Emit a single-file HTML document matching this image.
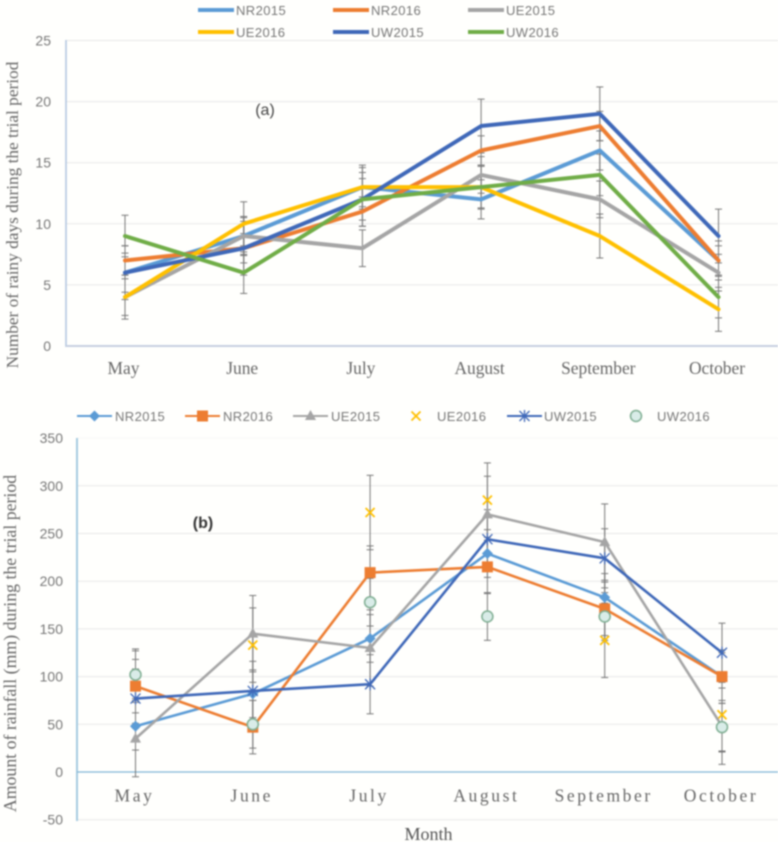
<!DOCTYPE html>
<html lang="en">
<head>
<meta charset="utf-8">
<title>Rainy days and rainfall during the trial period</title>
<style>
  html, body { margin: 0; padding: 0; background: #fffffd; }
  #figure { display: block; width: 778px; height: 842px; filter: blur(0.7px); }
  .sans { font-family: "Liberation Sans", sans-serif; }
  .serif { font-family: "Liberation Serif", serif; }
</style>
</head>
<body>
<svg id="figure" xmlns="http://www.w3.org/2000/svg" width="778" height="842" viewBox="0 0 778 842">
  <g id="chart-a"></g>
  <g id="chart-b"></g>
</svg>
<script>
const months = ['May', 'June', 'July', 'August', 'September', 'October'];
const seriesNames = ['NR2015', 'NR2016', 'UE2015', 'UE2016', 'UW2015', 'UW2016'];

const ticksA = [0, 5, 10, 15, 20, 25];
const nr2015A = [6, 9, 13, 12, 16, 7];
const nr2016A = [7, 8, 11, 16, 18, 7];
const ue2015A = [4, 9, 8, 14, 12, 6];
const ue2016A = [4, 10, 13, 13, 9, 3];
const uw2015A = [6, 8, 12, 18, 19, 9];
const uw2016A = [9, 6, 12, 13, 14, 4];
const errorsA = [1.6, 1.2, 1.5, 1.8, 2.2, 1.7];

const ticksB = [-50, 0, 50, 100, 150, 200, 250, 300, 350];
const nr2015B = [48, 82, 140, 229, 183, 100];
const nr2016B = [90, 47, 209, 215, 171, 100];
const ue2015B = [35, 145, 130, 270, 241, 48];
const ue2016B = [90, 133, 272, 285, 138, 60];
const uw2015B = [77, 85, 92, 244, 224, 125];
const uw2016B = [102, 50, 178, 163, 163, 47];
const errorsB = [25, 28, 40, 39, 31, 25];

const SVGNS = 'http://www.w3.org/2000/svg';
const colorsA = ['#5b9bd5', '#ed7d31', '#a5a5a5', '#ffc000', '#3f68b8', '#70ad47'];
const colorsB = ['#5b9bd5', '#ed7d31', '#a5a5a5', '#ffc000', '#3f68b8', '#7fae92'];

function make(parent, tag, attrs, text) {
  const el = document.createElementNS(SVGNS, tag);
  for (const k in attrs) el.setAttribute(k, attrs[k]);
  if (text !== undefined) el.textContent = text;
  parent.appendChild(el);
  return el;
}

function label(parent, name, x, y, text, size, fill, cls, anchor, extra) {
  const el = make(parent, 'text', Object.assign({ x: x, y: y, 'font-size': size, fill: fill, class: cls, 'text-anchor': anchor }, extra || {}), text);
  
  
  return el;
}

function errorBar(parent, name, px, yTop, yBottom) {
  const g = make(parent, 'g', { stroke: '#777777', 'stroke-width': 1, fill: 'none' });
  
  
  make(g, 'line', { x1: px, x2: px, y1: yTop, y2: yBottom });
  make(g, 'line', { x1: px - 3.5, x2: px + 3.5, y1: yTop, y2: yTop });
  make(g, 'line', { x1: px - 3.5, x2: px + 3.5, y1: yBottom, y2: yBottom });
}

function drawMarker(parent, kind, cx, cy, color) {
  if (kind === 'diamond') {
    make(parent, 'path', { d: 'M' + cx + ' ' + (cy - 5.5) + 'L' + (cx + 5.5) + ' ' + cy + 'L' + cx + ' ' + (cy + 5.5) + 'L' + (cx - 5.5) + ' ' + cy + 'Z', fill: color });
  } else if (kind === 'square') {
    make(parent, 'rect', { x: cx - 5.5, y: cy - 5.5, width: 11, height: 11, fill: color });
  } else if (kind === 'triangle') {
    make(parent, 'path', { d: 'M' + cx + ' ' + (cy - 6) + 'L' + (cx + 5.5) + ' ' + (cy + 4) + 'L' + (cx - 5.5) + ' ' + (cy + 4) + 'Z', fill: color });
  } else if (kind === 'cross') {
    make(parent, 'path', { d: 'M' + (cx - 4.5) + ' ' + (cy - 4.5) + 'L' + (cx + 4.5) + ' ' + (cy + 4.5) + 'M' + (cx + 4.5) + ' ' + (cy - 4.5) + 'L' + (cx - 4.5) + ' ' + (cy + 4.5), stroke: color, 'stroke-width': 1.8, fill: 'none' });
  } else if (kind === 'star') {
    make(parent, 'path', { d: 'M' + (cx - 5) + ' ' + (cy - 5) + 'L' + (cx + 5) + ' ' + (cy + 5) + 'M' + (cx + 5) + ' ' + (cy - 5) + 'L' + (cx - 5) + ' ' + (cy + 5) + 'M' + cx + ' ' + (cy - 6) + 'L' + cx + ' ' + (cy + 6), stroke: color, 'stroke-width': 1.3, fill: 'none' });
  } else if (kind === 'circle') {
    make(parent, 'circle', { cx: cx, cy: cy, r: 5.5, fill: '#d9ece8', stroke: color, 'stroke-width': 1.5 });
  }
}

/* ---------- chart (a) ---------- */
const rootA = document.getElementById('chart-a');
const seriesA = [nr2015A, nr2016A, ue2015A, ue2016A, uw2015A, uw2016A];
const xA = i => 125 + i * 118.7;
const yA = v => 346 - v * 12.22;

ticksA.forEach(t => {
  if (t > 0) {
    const grid = make(rootA, 'line', { x1: 66, x2: 778, y1: yA(t), y2: yA(t), stroke: '#e8e8e8', 'stroke-width': 1 });
    
    
  }
  label(rootA, 'y-tick-a-' + t, 51, yA(t) + 5, String(t), 14, '#777777', 'sans', 'end');
});
const axisLeftA = make(rootA, 'line', { x1: 66, x2: 66, y1: 40, y2: 347, stroke: '#b4c7e0', 'stroke-width': 1.6 });


const axisBottomA = make(rootA, 'line', { x1: 66, x2: 778, y1: 346, y2: 346, stroke: '#c6cfe0', 'stroke-width': 2 });



months.forEach((m, i) => {
  label(rootA, 'x-tick-a-' + m.toLowerCase(), xA(i) - 1.5, 374, m, 17.4, '#666666', 'serif', 'middle');
});

seriesA.forEach((vals, s) => {
  vals.forEach((v, i) => {
    errorBar(rootA, 'error-bar-a-' + seriesNames[s].toLowerCase() + '-' + i, xA(i), yA(v + errorsA[s]), yA(v - errorsA[s]));
  });
});
seriesA.forEach((vals, s) => {
  const line = make(rootA, 'polyline', {
    points: vals.map((v, i) => xA(i) + ',' + yA(v)).join(' '),
    fill: 'none', stroke: colorsA[s], 'stroke-width': 4, 'stroke-linejoin': 'round', 'stroke-linecap': 'round'
  });
  
  
});

const legendXA = [198, 333, 468];
const legendYA = [10, 32];
seriesNames.forEach((n, s) => {
  const col = s % 3;
  const row = Math.floor(s / 3);
  const g = make(rootA, 'g', {});
  
  
  make(g, 'line', { x1: legendXA[col], x2: legendXA[col] + 36, y1: legendYA[row], y2: legendYA[row], stroke: colorsA[s], 'stroke-width': 4 });
  label(g, 'legend-a-label-' + n.toLowerCase(), legendXA[col] + 38, legendYA[row] + 5, n, 13, '#777777', 'sans', 'start', { 'letter-spacing': '0.4' });
});

label(rootA, 'y-axis-title-a', 0, 0, 'Number of rainy days during the trial period', 17.3, '#666666', 'serif', 'middle', { transform: 'translate(18 215) rotate(-90)' });
label(rootA, 'panel-label-a', 265, 115, '(a)', 16, '#444444', 'sans', 'middle');

/* ---------- chart (b) ---------- */
const rootB = document.getElementById('chart-b');
const seriesB = [nr2015B, nr2016B, ue2015B, ue2016B, uw2015B, uw2016B];
const lineOn = [true, true, true, false, true, false];
const markerKinds = ['diamond', 'square', 'triangle', 'cross', 'star', 'circle'];
const xB = i => 135.5 + i * 117.3;
const yB = v => 772 - v * 0.954;

ticksB.forEach(t => {
  if (t !== 0) {
    const grid = make(rootB, 'line', { x1: 77, x2: 778, y1: yB(t), y2: yB(t), stroke: t === 350 ? '#f7f7f7' : '#e8e8e8', 'stroke-width': 1 });
    
    
  }
  label(rootB, 'y-tick-b-' + t, 63, yB(t) + 5, String(t), 14, '#777777', 'sans', 'end');
});
const axisLeftB = make(rootB, 'line', { x1: 77, x2: 77, y1: 438, y2: 821, stroke: '#a6cbe0', 'stroke-width': 2 });


const axisZeroB = make(rootB, 'line', { x1: 77, x2: 778, y1: 772, y2: 772, stroke: '#7fb5d5', 'stroke-width': 1.2 });



months.forEach((m, i) => {
  label(rootB, 'x-tick-b-' + m.toLowerCase(), xB(i) - 1, 801.5, m, 17.5, '#666666', 'serif', 'middle', { 'letter-spacing': '2.6' });
});

seriesB.forEach((vals, s) => {
  vals.forEach((v, i) => {
    errorBar(rootB, 'error-bar-b-' + seriesNames[s].toLowerCase() + '-' + i, xB(i), yB(v + errorsB[s]), yB(v - errorsB[s]));
  });
});
/* UE2016 sits underneath the other series so its May mark hides behind the NR2016 square */
[3, 0, 1, 2, 4, 5].forEach(s => {
  const vals = seriesB[s];
  if (lineOn[s]) {
    const line = make(rootB, 'polyline', {
      points: vals.map((v, i) => xB(i) + ',' + yB(v)).join(' '),
      fill: 'none', stroke: colorsB[s], 'stroke-width': 2.6, 'stroke-linejoin': 'round'
    });
    
    
  }
  const marks = make(rootB, 'g', {});
  
  
  vals.forEach((v, i) => drawMarker(marks, markerKinds[s], xB(i), yB(v), colorsB[s]));
});

const legendSwatchB = [77, 185, 293, 400, 507, 620];
const legendTextB = [115, 223, 331, 437, 544, 657];
seriesNames.forEach((n, s) => {
  const g = make(rootB, 'g', {});
  
  
  if (lineOn[s]) {
    make(g, 'line', { x1: legendSwatchB[s], x2: legendSwatchB[s] + 35, y1: 416, y2: 416, stroke: colorsB[s], 'stroke-width': 2 });
  }
  drawMarker(g, markerKinds[s], legendSwatchB[s] + (lineOn[s] ? 17.5 : 16), 416, colorsB[s]);
  label(g, 'legend-b-label-' + n.toLowerCase(), legendTextB[s], 421, n, 13, '#777777', 'sans', 'start', { 'letter-spacing': '0.4' });
});

label(rootB, 'y-axis-title-b', 0, 0, 'Amount of rainfall (mm) during the trial period', 17.8, '#666666', 'serif', 'middle', { transform: 'translate(16 643.5) rotate(-90)' });
label(rootB, 'x-axis-title-b', 428.5, 840, 'Month', 18, '#555555', 'serif', 'middle');
label(rootB, 'panel-label-b', 203, 528, '(b)', 16, '#333333', 'sans', 'middle', { 'font-weight': '600' });
</script>
</body>
</html>
